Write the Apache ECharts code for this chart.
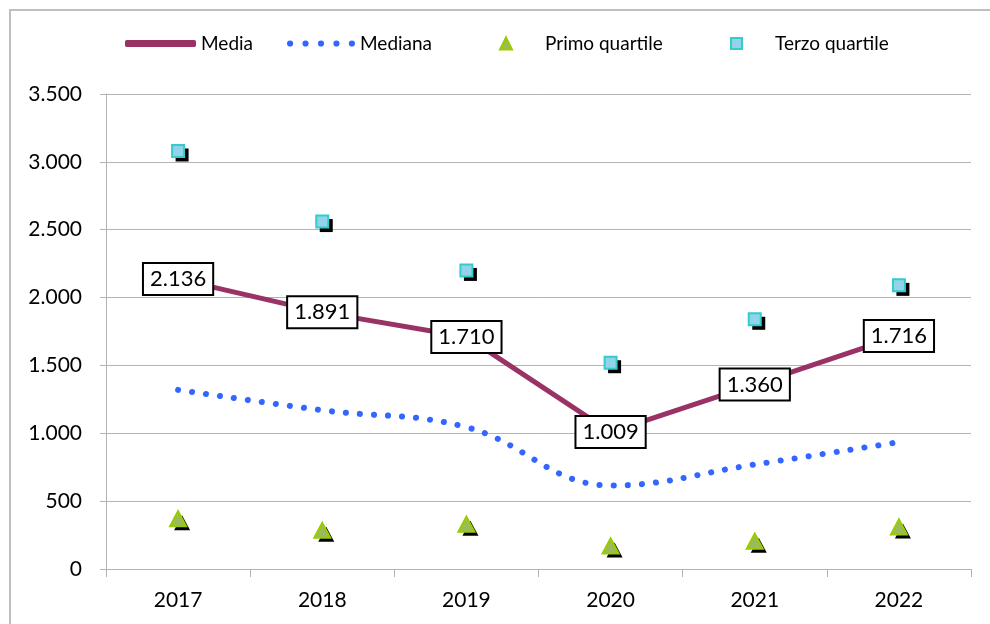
<!DOCTYPE html>
<html>
<head>
<meta charset="utf-8">
<script src="https://cdn.jsdelivr.net/npm/echarts@6/dist/echarts.min.js"></script>
<style>
  html, body { margin: 0; padding: 0; background: #fff; }
  #chart { width: 990px; height: 624px; }
</style>
</head>
<body>
<div id="chart"></div>
<script>
// dati
var anni = ['2017', '2018', '2019', '2020', '2021', '2022'];
var media = [2136, 1891, 1710, 1009, 1360, 1716];
var mediana = [1320, 1170, 1045, 615, 770, 935];
var primoQuartile = [370, 285, 330, 170, 205, 310];
var terzoQuartile = [3080, 2560, 2200, 1520, 1840, 2090];
var yTicks = [0, 500, 1000, 1500, 2000, 2500, 3000, 3500];

var font = 'Lato';

function puntoMigliaia (v) {
  return String(v).replace(/\B(?=(\d{3})+(?!\d))/g, '.');
}

var chart = echarts.init(document.getElementById('chart'));

var legendText = { fontFamily: font, fontSize: 19, color: '#000' };
var legendBase = {
  top: 34,
  padding: 0,
  itemGap: 0,
  textStyle: legendText
};

// ombra nera sotto i marcatori (serie a parte, fuori legenda)
function ombra (dati, simbolo, size) {
  return {
    type: 'scatter',
    data: dati,
    symbol: simbolo,
    symbolSize: size,
    symbolOffset: [4, 4],
    z: 3,
    silent: true,
    itemStyle: { color: '#000', opacity: 1 }
  };
}

var option = {
  animation: false,
  backgroundColor: '#fff',
  graphic: [{
    // bordo esterno
    type: 'rect',
    shape: { x: 10, y: 10, width: 1200, height: 1200 },
    style: { fill: 'none', stroke: '#bfbfbf', lineWidth: 2 },
    silent: true
  }],
  legend: [
    Object.assign({}, legendBase, {
      left: 125, data: [{ name: 'Media', icon: 'roundRect' }],
      itemWidth: 71, itemHeight: 7
    }),
    Object.assign({}, legendBase, {
      left: 287, data: [{
        name: 'Mediana',
        icon: 'path://M0,3a3,3 0 1,0 6,0a3,3 0 1,0 -6,0M15,3a3,3 0 1,0 6,0a3,3 0 1,0 -6,0M30,3a3,3 0 1,0 6,0a3,3 0 1,0 -6,0M45,3a3,3 0 1,0 6,0a3,3 0 1,0 -6,0M60,3a3,3 0 1,0 6,0a3,3 0 1,0 -6,0'
      }],
      itemWidth: 68, itemHeight: 7
    }),
    Object.assign({}, legendBase, {
      left: 499, data: [{ name: 'Primo quartile', icon: 'triangle' }],
      itemWidth: 12, itemHeight: 12,
      textStyle: Object.assign({}, legendText, { padding: [0, 0, 0, 28] })
    }),
    Object.assign({}, legendBase, {
      left: 730, data: [{ name: 'Terzo quartile', icon: 'rect' }],
      itemWidth: 11, itemHeight: 11,
      textStyle: Object.assign({}, legendText, { padding: [0, 0, 0, 28] })
    })
  ],
  grid: { left: 106, right: 19, top: 94, bottom: 55, containLabel: false },
  xAxis: {
    type: 'category',
    data: anni,
    boundaryGap: true,
    axisLine: { lineStyle: { color: '#b3b3b3', width: 1 } },
    axisTick: { show: true, length: 8, lineStyle: { color: '#b3b3b3' } },
    axisLabel: { fontFamily: font, fontSize: 21, color: '#000', margin: 21 }
  },
  yAxis: {
    type: 'value',
    min: yTicks[0],
    max: yTicks[yTicks.length - 1],
    interval: 500,
    axisLine: { show: true, lineStyle: { color: '#b3b3b3' } },
    axisTick: { show: true, length: 6, lineStyle: { color: '#b3b3b3' } },
    splitLine: { lineStyle: { color: '#b3b3b3', width: 1 } },
    axisLabel: {
      fontFamily: font, fontSize: 21, color: '#000', margin: 24,
      formatter: function (v) { return puntoMigliaia(v); }
    }
  },
  series: [
    {
      name: 'Media',
      type: 'line',
      data: media,
      z: 5,
      symbol: 'circle',
      symbolSize: 1,
      itemStyle: { color: '#993366' },
      lineStyle: { color: '#993366', width: 5 },
      label: {
        show: true,
        position: 'inside',
        fontFamily: font,
        fontSize: 22,
        color: '#000',
        backgroundColor: '#fff',
        borderColor: '#000',
        borderWidth: 2,
        padding: [5, 6, 3, 6],
        formatter: function (p) { return puntoMigliaia(p.value); }
      }
    },
    {
      name: 'Mediana',
      type: 'line',
      data: mediana,
      smooth: 0.4,
      showSymbol: false,
      z: 3,
      itemStyle: { color: '#3366ff' },
      lineStyle: { color: '#3366ff', width: 6, type: [0.1, 14], cap: 'round' }
    },
    ombra(primoQuartile, 'triangle', [16, 15]),
    ombra(terzoQuartile, 'rect', 13),
    {
      name: 'Primo quartile',
      type: 'scatter',
      data: primoQuartile,
      symbol: 'triangle',
      symbolSize: [16, 15],
      z: 4,
      itemStyle: {
        opacity: 1,
        color: '#9bbb59',
        borderColor: '#99cc00',
        borderWidth: 2
      }
    },
    {
      name: 'Terzo quartile',
      type: 'scatter',
      data: terzoQuartile,
      symbol: 'rect',
      symbolSize: 12,
      z: 4,
      itemStyle: {
        opacity: 1,
        color: '#93d3ea',
        borderColor: '#33cccc',
        borderWidth: 2
      }
    }
  ]
};

chart.setOption(option);
</script>
</body>
</html>
